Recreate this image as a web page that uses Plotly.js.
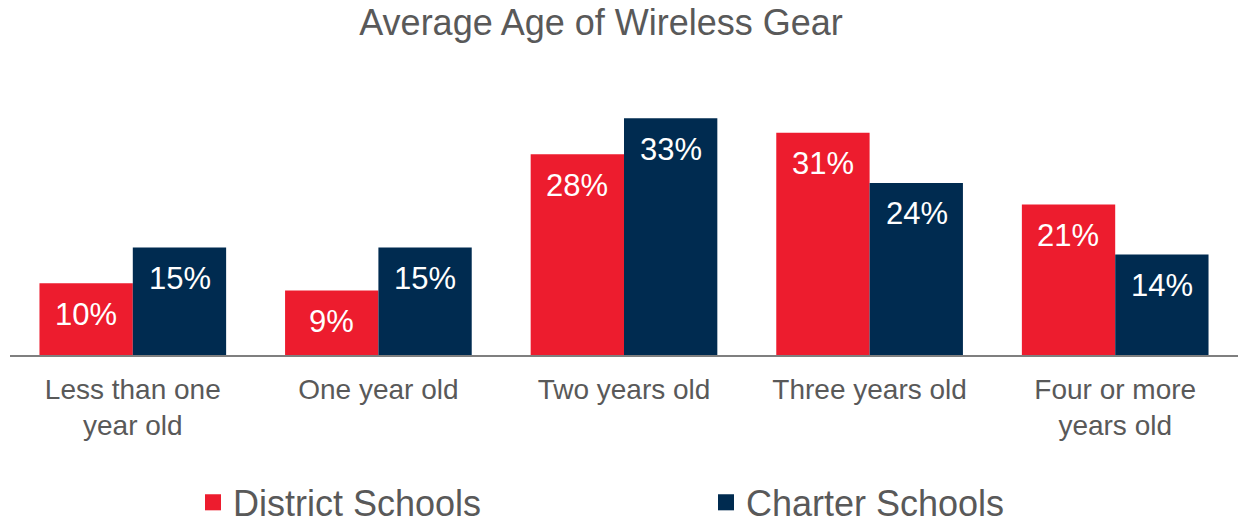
<!DOCTYPE html>
<html>
<head>
<meta charset="utf-8">
<script src="https://cdn.plot.ly/plotly-3.0.1.min.js"></script>
<style>html,body{margin:0;padding:0;background:#fff;}#chart{width:1238px;height:525px;}</style>
</head>
<body>
<div id="chart"></div>
<script>
const categories = ["Less than one<br>year old", "One year old", "Two years old", "Three years old", "Four or more<br>years old"];
const districtValues = [10, 9, 28, 31, 21];
const charterValues = [15, 15, 33, 24, 14];
const seriesNames = ["District Schools", "Charter Schools"];
const colors = ["#ED1C2E", "#002B50"];

const FONT = "Liberation Sans, Arial, sans-serif";
const fmt = v => v + "%";

const traces = [
  {type: "bar", name: seriesNames[0], x: categories, y: districtValues, marker: {color: colors[0]}, hoverinfo: "none", showlegend: false},
  {type: "bar", name: seriesNames[1], x: categories, y: charterValues, marker: {color: colors[1]}, hoverinfo: "none", showlegend: false},
  {type: "scatter", mode: "markers", name: seriesNames[0], x: [null], y: [null], legend: "legend",
   marker: {symbol: "square", size: 17, color: colors[0]}, hoverinfo: "none"},
  {type: "scatter", mode: "markers", name: seriesNames[1], x: [null], y: [null], legend: "legend2",
   marker: {symbol: "square", size: 17, color: colors[1]}, hoverinfo: "none"}
];

const annotations = [];
[districtValues, charterValues].forEach((vals, s) => {
  vals.forEach((v, i) => {
    annotations.push({
      x: categories[i], y: v, xref: "x", yref: "y",
      text: fmt(v), showarrow: false,
      xshift: s === 0 ? -47 : 47, yshift: -31,
      yanchor: "middle", xanchor: "center",
      font: {family: FONT, size: 31, color: "#ffffff"}
    });
  });
});

const legendBase = {orientation: "h", xref: "container", yref: "container", xanchor: "left", yanchor: "middle",
  y: 0.043, font: {family: FONT, size: 36, color: "#595959"}, bgcolor: "rgba(0,0,0,0)", borderwidth: 0, itemsizing: "trace"};

const layout = {
  width: 1238, height: 525,
  margin: {l: 10, r: 0, t: 104, b: 170},
  paper_bgcolor: "#ffffff", plot_bgcolor: "#ffffff",
  font: {family: FONT, color: "#595959"},
  title: {text: "Average Age of Wireless Gear", font: {family: FONT, size: 36, color: "#595959"},
          x: 0.4855, xref: "container", xanchor: "center", y: 0.958, yref: "container", yanchor: "middle"},
  barmode: "group", bargap: 0.24, bargroupgap: 0,
  xaxis: {type: "category", showline: true, linecolor: "#7F7F7F", linewidth: 2, ticks: "", showgrid: false,
          tickfont: {family: FONT, size: 28, color: "#595959"}, fixedrange: true, ticklabelstandoff: 8},
  yaxis: {range: [0, 35], visible: false, showgrid: false, zeroline: false, fixedrange: true},
  showlegend: true,
  legend: Object.assign({}, legendBase, {x: 193 / 1238}),
  legend2: Object.assign({}, legendBase, {x: 706 / 1238}),
  annotations: annotations
};

Plotly.newPlot("chart", traces, layout, {displayModeBar: false, staticPlot: true});
</script>
</body>
</html>
